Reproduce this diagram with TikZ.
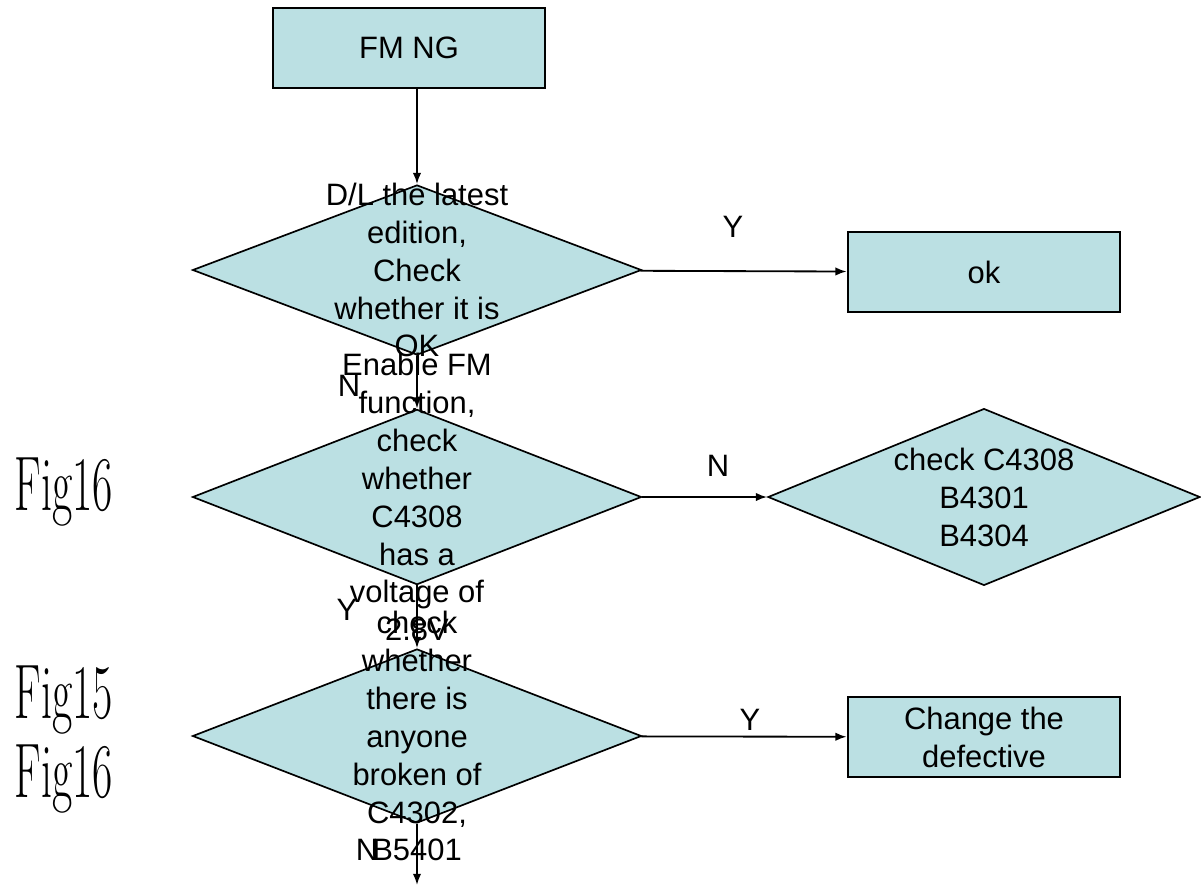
\documentclass[tikz,border=0pt]{standalone}
\usepackage{fontspec}
\usepackage{graphicx}
\usetikzlibrary{shapes.geometric,arrows.meta}
\newfontfamily\flowfont{Liberation Sans}
\definecolor{boxfill}{RGB}{187,224,227}
\newcommand{\squeezed}[1]{\scalebox{0.57}[1]{#1}}
\begin{document}
\begin{tikzpicture}
[x=0.025cm,y=-0.025cm,
  lineDecorate/.style={-{Latex[length=8pt,width=6pt]},line width=1.3pt},%
  boxDecorate/.style={shape=rectangle,draw,line width=1.9pt,fill=boxfill,
    minimum width=6.8cm,minimum height=2cm,align=center,
    font=\flowfont\fontsize{22}{27}\selectfont},%
  diamondDecorate/.style={shape=diamond,draw,line width=1.2pt,fill=boxfill,inner sep=0pt},%
  textDecorate/.style={align=center,inner sep=0pt,font=\flowfont\fontsize{22}{27}\selectfont},%
  figDecorate/.style={anchor=base,inner sep=0pt,font=\fontsize{55}{60}\selectfont}]
\useasboundingbox (0,0) rectangle (1201,887);
%% boxes
\foreach \nodename/\x/\y/\txt in {
  fmng/409/48/{FM NG}, ok/984/272/ok, change/984/737/{Change the\\defective}}
{
  \node (\nodename) at (\x,\y) [boxDecorate] {\txt};
}
%% decisions
\foreach \nodename/\x/\y/\w/\h in {
  dl/417/270/11.22cm/4.25cm, fm/417/497/11.22cm/4.38cm,
  part/984/497/10.8cm/4.42cm, broken/417/736/11.22cm/4.35cm}
{
  \node (\nodename) at (\x,\y) [diamondDecorate,minimum width=\w,minimum height=\h] {};
}
\foreach \nodename/\txt in {
  dl/{D/L the latest\\edition,\\Check\\whether it is\\OK},
  fm/{Enable FM\\function,\\check\\whether\\C4308\\has a\\voltage of\\2.8V},
  part/{check C4308\\B4301\\B4304},
  broken/{check\\whether\\there is\\anyone\\broken of\\C4302,\\B5401}}
{
  \node (\nodename-text) at (\nodename) [textDecorate] {\txt};
}
%% answers
\foreach \nodename/\x/\y/\txt in {
  yes1/733/227/Y, no1/349/386/N, no2/718/466/N,
  yes2/347/610/Y, yes3/750/720/Y, no3/367/850/N}
{
  \node (\nodename) at (\x,\y) [textDecorate] {\txt};
}
%% figure tags
\foreach \nodename/\y/\num in {
  tagA/510/16, tagB/718/15, tagC/797/16}
{
  \node (\nodename) at (64,\y) [figDecorate] {\squeezed{Fig\num}};
}
%% edges
\coordinate (end) at (417,885);
\draw[lineDecorate] (fmng.south -| dl) -- (dl);
\path
\foreach \startnode/\endnode in {
  dl/ok, dl/fm, fm/part, fm/broken, broken/change, broken/end}
{
  (\startnode) edge[lineDecorate] (\endnode)
};
\end{tikzpicture}
\end{document}
